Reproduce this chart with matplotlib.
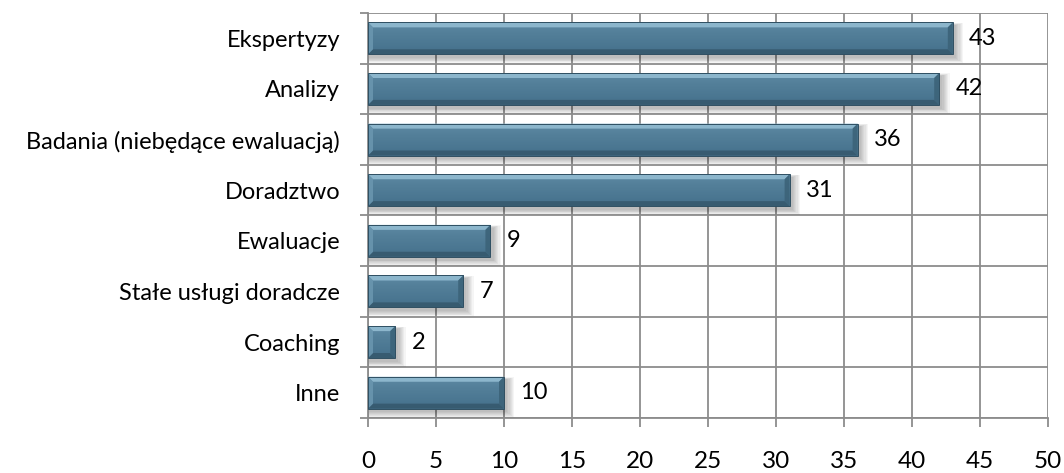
import numpy as np
import matplotlib
matplotlib.use("Agg")
import matplotlib.pyplot as plt
from matplotlib.patches import Rectangle, Polygon
from matplotlib.colors import LinearSegmentedColormap

categories = ["Ekspertyzy", "Analizy", "Badania (niebędące ewaluacją)", "Doradztwo",
              "Ewaluacje", "Stałe usługi doradcze", "Coaching", "Inne"]
values = [43, 42, 36, 31, 9, 7, 2, 10]
x_ticks = [0, 5, 10, 15, 20, 25, 30, 35, 40, 45, 50]

plt.rcParams['font.family'] = ['Lato', 'DejaVu Sans']

W, H = 1064, 473
fig = plt.figure(figsize=(W / 100, H / 100), dpi=100)
left_px, right_px, top_px, bottom_px = 368, 1048, 13, 418
ax = fig.add_axes([left_px / W, 1 - bottom_px / H, (right_px - left_px) / W,
                   (bottom_px - top_px) / H])

n = len(categories)
ax.set_xlim(0, 50)
ax.set_ylim(n, 0)

px_x = 50 / (right_px - left_px)     # data units per pixel, horizontal
px_y = n / (bottom_px - top_px)      # data units per pixel, vertical

grid_c = "#8c8c8c"
for t in x_ticks:
    ax.axvline(t, color=grid_c, lw=1.3, zorder=1)
for k in range(n + 1):
    ax.axhline(k, color=grid_c, lw=1.3, zorder=1)

h = 0.63
face = LinearSegmentedColormap.from_list(
    "face", [(0.0, "#5d8aa4"), (0.35, "#537f99"), (0.8, "#497590"), (1.0, "#456f88")])
gimg = np.linspace(0, 1, 64).reshape(-1, 1)

bx = 5 * px_x   # bevel width
by = 5 * px_y   # bevel height

for i, v in enumerate(values):
    y0 = i + 0.5 - h / 2
    y1 = y0 + h
    # soft drop shadow below and to the right
    for k in range(7):
        grow = (k + 1) * 1.2
        ax.add_patch(Rectangle((0, y0 + 3 * px_y - grow * px_y * 0.3),
                               v + (2 + grow) * px_x, h + grow * px_y,
                               facecolor="black", alpha=0.04, lw=0, zorder=2))
    rect = Rectangle((0, y0), v, h, facecolor="none", edgecolor="none", lw=0, zorder=4)
    ax.add_patch(rect)
    im = ax.imshow(gimg, cmap=face, aspect="auto", extent=(0, v, y1, y0),
                   zorder=3, interpolation="bicubic")
    im.set_clip_path(rect)
    # bevelled edges
    top = Polygon([(0, y0), (v, y0), (v - bx, y0 + by), (bx, y0 + by)],
                  closed=True, facecolor="#8fb9cf", lw=0, zorder=3.5, alpha=0.95)
    bot = Polygon([(0, y1), (v, y1), (v - bx, y1 - by), (bx, y1 - by)],
                  closed=True, facecolor="#36596e", lw=0, zorder=3.5, alpha=0.9)
    lft = Polygon([(0, y0), (bx, y0 + by), (bx, y1 - by), (0, y1)],
                  closed=True, facecolor="#6b97b0", lw=0, zorder=3.6, alpha=0.85)
    rgt = Polygon([(v, y0), (v - bx, y0 + by), (v - bx, y1 - by), (v, y1)],
                  closed=True, facecolor="#3c6379", lw=0, zorder=3.6, alpha=0.9)
    for p in (top, bot, lft, rgt):
        ax.add_patch(p)
    ax.add_patch(Rectangle((0, y0), v, h, facecolor="none", edgecolor="#2f4f62",
                           lw=0.7, zorder=4))
    ax.text(v + 1.2, i + 0.5, str(v), va="center", ha="left", fontsize=17,
            color="black", zorder=5)

ax.set_xticks(x_ticks)
ax.set_xticklabels([str(t) for t in x_ticks], fontsize=17.5)
ax.set_yticks(np.arange(n) + 0.5)
ax.set_yticklabels(categories, fontsize=17)
ax.set_yticks(np.arange(n + 1), minor=True)
ax.tick_params(axis="y", which="major", length=0, pad=20)
ax.tick_params(axis="y", which="minor", length=6, color=grid_c, width=1.3)
ax.tick_params(axis="x", length=6.5, color=grid_c, width=1.3, pad=17)

for s in ax.spines.values():
    s.set_visible(False)
for side in ("left", "bottom"):
    ax.spines[side].set_visible(True)
    ax.spines[side].set_color(grid_c)
    ax.spines[side].set_linewidth(1.3)

fig.savefig("out.png", dpi=100)
